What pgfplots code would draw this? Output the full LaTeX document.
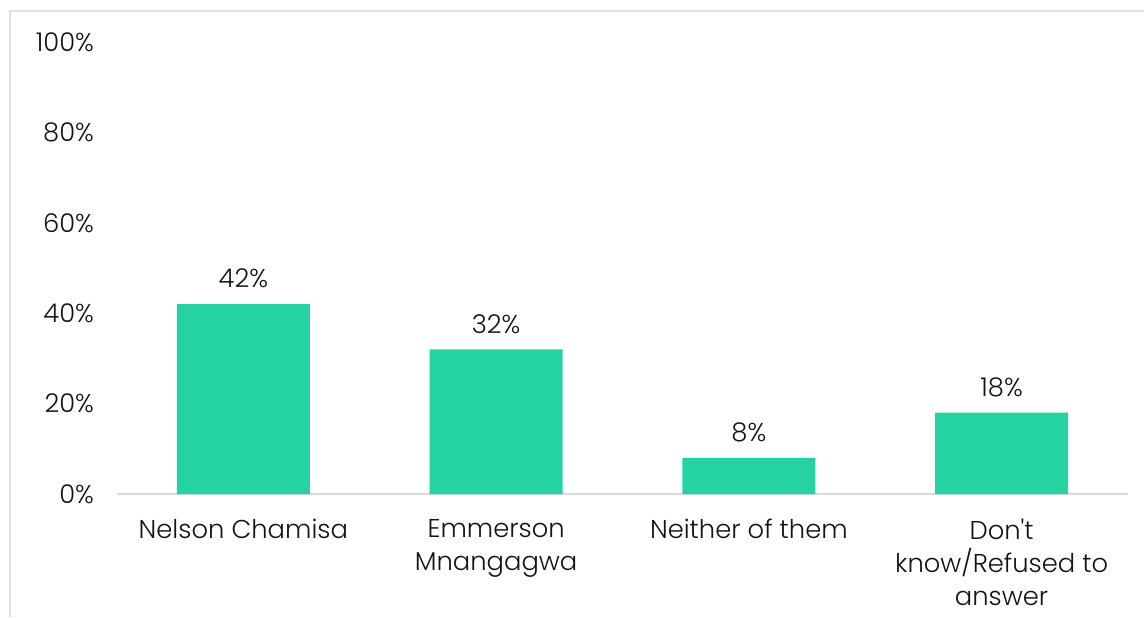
\documentclass[border=0pt]{standalone}
\usepackage{pgfplots}
\pgfplotsset{compat=1.18}
\usepackage{fontspec}
\setmainfont{Poppins}[UprightFont={* Light}, Ligatures=TeXOff]
\definecolor{barc}{RGB}{37,210,161}
\definecolor{framec}{RGB}{224,224,224}
\definecolor{axc}{RGB}{217,217,217}
\definecolor{txt}{RGB}{20,20,20}
\begin{document}
\begin{tikzpicture}
\useasboundingbox (-58.5pt,-61.5pt) rectangle (513.5pt,247pt);
\draw[framec, line width=1.2pt] (-53.5pt,-61.5pt) -- (-53.5pt,241.5pt) -- (513.5pt,241.5pt);
\begin{axis}[
 at={(0,0)}, anchor=south west,
 scale only axis, width=505.5pt, height=226pt,
 xmin=-0.5, xmax=3.5, ymin=0, ymax=100,
 ybar, bar width=66.5pt,
 axis x line*=bottom, axis y line*=left,
 y axis line style={draw=none},
 x axis line style={draw=axc, line width=0.8pt},
 ytick={0,20,...,100},
 yticklabel={\pgfmathprintnumber{\tick}\%},
 xtick={0,1,2,3},
 xticklabels={Nelson Chamisa,{Emmerson\\Mnangagwa},Neither of them,{Don't\\know/Refused to\\answer}},
 major tick length=0pt,
 tick label style={font=\fontsize{12.9}{16.6}\selectfont, text=txt},
 xticklabel style={align=center, anchor=north, yshift=-9pt},
 yticklabel style={xshift=-8pt},
 nodes near coords={\pgfmathprintnumber{\pgfplotspointmeta}\%},
 every node near coord/.append style={font=\fontsize{12.9}{15}\selectfont, text=txt, yshift=4.5pt},
 /pgf/number format/assume math mode=true,
 clip=false,
]
\addplot[fill=barc, draw=none] coordinates {(0,42) (1,32) (2,8) (3,18)};
\end{axis}
\end{tikzpicture}
\end{document}
